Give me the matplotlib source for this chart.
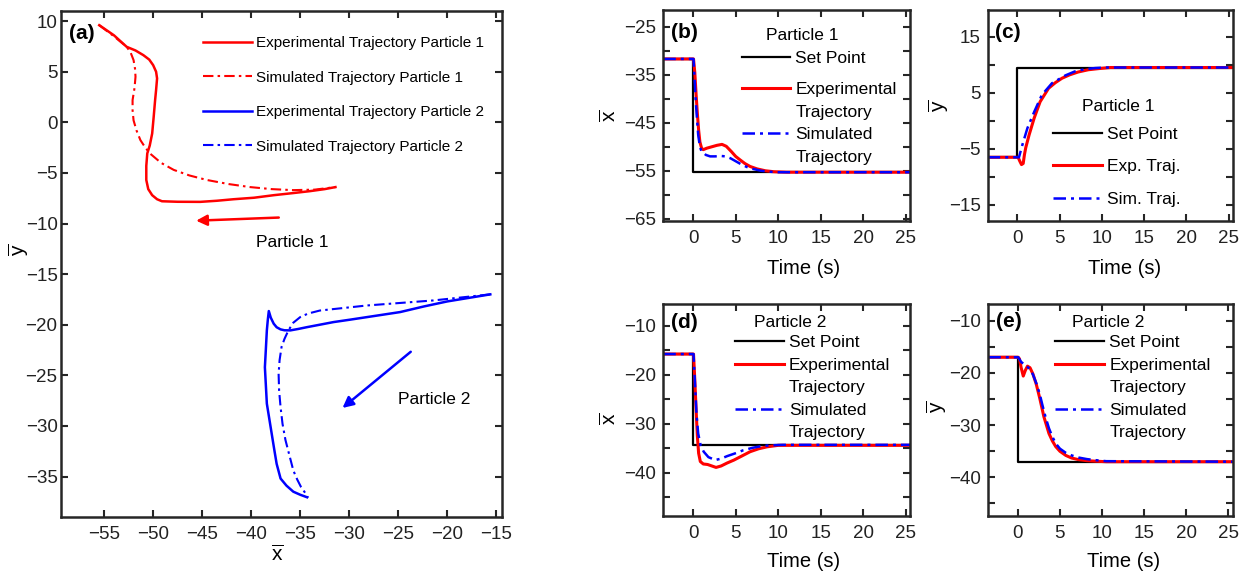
import matplotlib
matplotlib.use("Agg")
import matplotlib.pyplot as plt
from matplotlib.ticker import FixedLocator
from matplotlib.lines import Line2D

plt.rcParams['font.family'] = ['Liberation Sans', 'DejaVu Sans']
plt.rcParams['mathtext.fontset'] = 'custom'
plt.rcParams['mathtext.rm'] = 'Liberation Sans'
plt.rcParams['mathtext.it'] = 'Liberation Sans:italic'
plt.rcParams['axes.unicode_minus'] = True

# ---------------- Panel (a) data: trajectories in the plane ----------------
p1_exp_x = [-55.5, -54.0, -52.7, -51.8, -51.0, -50.4, -50.0, -49.7, -49.6, -49.7, -49.8, -49.95, -50.1, -50.35,
            -50.6, -50.7, -50.7, -50.5, -50.1, -49.6, -49.1, -47.5, -45.2, -43.5, -41.8, -39.7, -37.7, -35.8,
            -34.0, -32.5, -31.4]
p1_exp_y = [9.6, 8.6, 7.46, 7.1, 6.64, 6.2, 5.65, 5.0, 4.34, 3.2, 2.2, 0.5, -1.1, -2.3,
            -3.07, -4.3, -5.7, -6.6, -7.2, -7.6, -7.8, -7.85, -7.86, -7.75, -7.6, -7.45, -7.2, -7.0,
            -6.8, -6.6, -6.4]
p1_sim_x = [-55.5, -54.0, -52.7, -52.3, -52.0, -51.85, -51.8, -51.9, -52.1, -52.1, -52.0, -51.7, -51.3, -50.8,
            -50.3, -49.2, -47.9, -46.3, -44.5, -42.3, -40.1, -37.9, -35.7, -33.5, -31.4]
p1_sim_y = [9.6, 8.5, 7.46, 6.9, 6.15, 5.3, 4.5, 3.4, 2.2, 1.2, 0.2, -0.8, -1.76, -2.5,
            -3.1, -4.0, -4.7, -5.25, -5.7, -6.1, -6.4, -6.6, -6.7, -6.65, -6.4]
p2_exp_x = [-15.6, -17.8, -20.0, -22.4, -24.8, -26.5, -28.2, -29.9, -31.6, -33.0, -34.3, -35.2, -36.0, -36.6,
            -37.0, -37.4, -37.7, -38.0, -38.2, -38.3, -38.4, -38.5, -38.6, -38.5, -38.4, -38.15, -37.9, -37.65,
            -37.4, -37.0, -36.4, -35.7, -35.0, -34.3]
p2_exp_y = [-17.0, -17.35, -17.7, -18.2, -18.75, -19.0, -19.25, -19.5, -19.74, -20.0, -20.24, -20.42, -20.56, -20.55,
            -20.46, -20.25, -19.9, -19.3, -18.65, -19.5, -20.56, -22.4, -24.2, -26.0, -27.8, -29.3, -30.8, -32.3,
            -33.75, -35.2, -35.9, -36.5, -36.8, -37.05]
p2_sim_x = [-15.6, -18.5, -21.4, -24.8, -28.2, -30.6, -33.0, -34.2, -35.0, -35.7, -36.2, -36.6, -36.9, -37.1,
            -37.2, -37.15, -37.0, -36.8, -36.5, -36.1, -35.7, -35.3, -34.9, -34.5, -34.2]
p2_sim_y = [-17.0, -17.3, -17.6, -17.85, -18.1, -18.35, -18.6, -18.9, -19.25, -19.8, -20.56, -21.4, -22.2, -23.5,
            -24.85, -26.5, -28.15, -29.8, -31.4, -32.9, -34.4, -35.3, -36.06, -36.6, -37.1]
arrow1 = [(-36.9, -9.4), (-45.9, -9.73)]
arrow2 = [(-23.5, -22.5), (-30.9, -28.4)]
legend_a = ['Experimental Trajectory Particle 1', 'Simulated Trajectory Particle 1',
            'Experimental Trajectory Particle 2', 'Simulated Trajectory Particle 2']

# ---------------- Panels (b)-(e) data: time responses ----------------
sp_t = [-3.5, 0, 0, 25.5]
b_sp = [-31.7, -31.7, -55.3, -55.3]
b_exp_t = [-3.5, 0.05, 0.2, 0.35, 0.5, 0.65, 0.8, 1.0, 1.2, 1.6, 2.2, 2.8, 3.4, 3.9, 4.5, 5.0, 5.5, 6.1, 6.7, 7.5, 8.5, 9.5, 11, 25.5]
b_exp_v = [-31.7, -31.7, -34.5, -39.0, -43.0, -46.5, -49.0, -50.3, -50.6, -50.3, -50.0, -49.7, -49.5, -49.9, -51.0, -52.0, -52.7, -53.5, -54.1, -54.6, -55.0, -55.2, -55.3, -55.3]
b_sim_t = [-3.5, 0.05, 0.15, 0.3, 0.45, 0.6, 0.8, 1.0, 1.2, 1.5, 2.0, 2.6, 3.2, 3.8, 4.4, 5.0, 5.6, 6.3, 7.0, 8.0, 9.0, 10.0, 12, 25.5]
b_sim_v = [-31.7, -31.7, -35.0, -40.0, -44.0, -47.5, -50.0, -51.0, -51.2, -51.7, -52.0, -52.0, -51.9, -52.0, -52.4, -53.0, -53.6, -54.2, -54.6, -55.0, -55.2, -55.3, -55.3, -55.3]

c_sp = [-6.5, -6.5, 9.5, 9.5]
c_exp_t = [-3.5, 0.1, 0.3, 0.5, 0.7, 0.85, 1.0, 1.4, 2.0, 2.7, 3.7, 4.5, 5.3, 6.2, 7.2, 8.4, 9.6, 11, 25.5]
c_exp_v = [-6.5, -6.5, -7.2, -7.8, -7.6, -6.0, -4.8, -2.5, 0.5, 3.4, 5.8, 6.8, 7.6, 8.2, 8.7, 9.1, 9.3, 9.5, 9.5]
c_sim_t = [-3.5, 0.0, 0.2, 0.6, 1.2, 2.0, 2.9, 4.1, 5.7, 6.8, 8.0, 9.2, 10.4, 25.5]
c_sim_v = [-6.5, -6.5, -6.5, -4.3, -1.3, 1.6, 4.6, 6.7, 8.1, 8.8, 9.2, 9.4, 9.5, 9.5]

d_sp = [-15.8, -15.8, -34.3, -34.3]
d_exp_t = [-3.5, 0.05, 0.2, 0.35, 0.5, 0.65, 0.85, 1.2, 1.7, 2.2, 2.7, 3.3, 4.0, 4.8, 5.7, 6.7, 7.7, 8.7, 10, 25.5]
d_exp_v = [-15.8, -15.8, -21.0, -27.0, -32.5, -36.0, -37.7, -38.2, -38.3, -38.6, -38.9, -38.6, -38.0, -37.4, -36.6, -35.7, -35.1, -34.7, -34.4, -34.4]
d_sim_t = [-3.5, 0.05, 0.2, 0.4, 0.6, 0.9, 1.25, 1.8, 2.6, 3.3, 4.0, 5.0, 5.9, 7.0, 7.9, 9.0, 10.5, 25.5]
d_sim_v = [-15.8, -15.8, -21.0, -28.0, -32.0, -34.5, -35.7, -36.8, -37.4, -37.1, -36.6, -36.0, -35.4, -34.9, -34.6, -34.4, -34.3, -34.3]

e_sp = [-17.0, -17.0, -37.0, -37.0]
e_exp_t = [-3.5, 0.05, 0.2, 0.4, 0.65, 0.9, 1.15, 1.45, 1.8, 2.2, 2.6, 3.1, 3.7, 4.1, 4.5, 5.0, 5.7, 6.4, 7.2, 8.2, 9.2, 10.5, 25.5]
e_exp_v = [-17.0, -17.0, -17.3, -19.0, -20.6, -19.5, -18.7, -19.0, -20.2, -22.2, -24.8, -28.4, -31.6, -33.0, -34.1, -35.0, -35.8, -36.3, -36.6, -36.8, -36.9, -37.0, -37.0]
e_sim_t = [-3.5, 0.05, 0.4, 0.9, 1.4, 1.8, 2.2, 2.6, 2.9, 3.3, 3.7, 4.1, 4.5, 5.0, 5.7, 6.4, 7.2, 8.2, 9.2, 10.5, 25.5]
e_sim_v = [-17.0, -17.0, -17.9, -18.5, -19.2, -20.3, -22.0, -24.0, -26.0, -28.5, -30.6, -32.2, -33.5, -34.5, -35.3, -35.8, -36.2, -36.5, -36.7, -36.9, -37.0]

time_ticks = [0, 5, 10, 15, 20, 25]
long_labels = ['Set Point', 'Experimental', 'Trajectory', 'Simulated', 'Trajectory']
short_labels = ['Set Point', 'Exp. Traj.', 'Sim. Traj.']

RED = '#ff0000'
BLUE = '#0000ff'
SPINE = '#262626'
DASHDOT = (0, (5, 2, 1.2, 2))
XBAR = r'$\overline{\mathrm{x}}$'
YBAR = r'$\overline{\mathrm{y}}$'
SP_STYLE = dict(color='black', lw=1.6)
EXP_STYLE = dict(color=RED, lw=2.2)
SIM_STYLE = dict(color=BLUE, lw=1.8, ls=DASHDOT)

fig = plt.figure(figsize=(12.48, 5.71), dpi=100)


def style_axes(ax, ypad):
    for s in ax.spines.values():
        s.set_linewidth(1.8)
        s.set_color(SPINE)
    ax.tick_params(which='both', direction='in', top=True, right=True,
                   length=5, width=1.5, color=SPINE, labelsize=13.5, labelcolor='#222222')
    ax.tick_params(axis='x', which='both', pad=6.5)
    ax.tick_params(axis='y', which='both', pad=ypad)


# ---------------- Panel (a) ----------------
axa = fig.add_axes([0.0489, 0.0946, 0.3534, 0.8861])
axa.plot(p1_exp_x, p1_exp_y, color=RED, lw=1.8, label=legend_a[0])
axa.plot(p1_sim_x, p1_sim_y, color=RED, lw=1.5, ls=DASHDOT, label=legend_a[1])
axa.plot(p2_exp_x, p2_exp_y, color=BLUE, lw=1.8, label=legend_a[2])
axa.plot(p2_sim_x, p2_sim_y, color=BLUE, lw=1.5, ls=DASHDOT, label=legend_a[3])
axa.annotate('', xy=arrow1[1], xytext=arrow1[0],
             arrowprops=dict(arrowstyle='-|>', color=RED, lw=1.8, mutation_scale=16))
axa.annotate('', xy=arrow2[1], xytext=arrow2[0],
             arrowprops=dict(arrowstyle='-|>', color=BLUE, lw=1.8, mutation_scale=16))
axa.text(-39.5, -11.9, 'Particle 1', fontsize=12.5, va='center', ha='left')
axa.text(-25.0, -27.4, 'Particle 2', fontsize=12.5, va='center', ha='left')
axa.set_xlim(-59.4, -14.4)
axa.set_ylim(-39, 11)
axa.set_xticks([-55, -50, -45, -40, -35, -30, -25, -20, -15])
axa.set_yticks([10, 5, 0, -5, -10, -15, -20, -25, -30, -35])
style_axes(axa, 2.5)
axa.set_xlabel(XBAR, fontsize=15)
axa.set_ylabel(YBAR, fontsize=15)
axa.xaxis.set_label_coords(0.49, -0.055)
axa.yaxis.set_label_coords(-0.068, 0.528)
axa.text(0.018, 0.975, '(a)', transform=axa.transAxes, fontsize=15, fontweight='bold', va='top', ha='left')
axa.legend(loc='upper left', bbox_to_anchor=(0.29, 0.978), frameon=False, fontsize=11,
           handlelength=3.2, labelspacing=1.35, handletextpad=0.3, borderpad=0.4)


def add_legend(ax, handles, labels, bbox, lspace):
    return ax.legend(handles, labels, loc='upper left', bbox_to_anchor=bbox, frameon=False,
                     fontsize=12.5, handlelength=2.8, handletextpad=0.3,
                     labelspacing=lspace, borderpad=0.2)


def time_panel(rect, sp, et, ev, st, sv, ylim, major, minor, label, label_y, title, title_xy,
               ylab, ycoords, xcoords):
    ax = fig.add_axes(rect)
    ax.plot(sp_t, sp, **SP_STYLE)
    ax.plot(et, ev, **EXP_STYLE)
    ax.plot(st, sv, **SIM_STYLE)
    ax.set_xlim(-3.5, 25.5)
    ax.set_ylim(*ylim)
    ax.set_xticks(time_ticks)
    ax.yaxis.set_major_locator(FixedLocator(major))
    ax.yaxis.set_minor_locator(FixedLocator(minor))
    style_axes(ax, 5)
    ax.set_xlabel('Time (s)', fontsize=14.5)
    ax.set_ylabel(ylab, fontsize=15)
    ax.xaxis.set_label_coords(*xcoords)
    ax.yaxis.set_label_coords(*ycoords)
    ax.text(0.03, label_y, label, transform=ax.transAxes, fontsize=15, fontweight='bold', va='top', ha='left')
    ax.text(title_xy[0], title_xy[1], title, transform=ax.transAxes, fontsize=12.5, ha='center', va='center')
    return ax


# (b)
axb = time_panel([0.5315, 0.6135, 0.1977, 0.369], b_sp, b_exp_t, b_exp_v, b_sim_t, b_sim_v,
                 (-65.4, -21.5), [-65, -55, -45, -35, -25], [-60, -50, -40, -30],
                 '(b)', 0.938, 'Particle 1', (0.562, 0.881), XBAR, (-0.176, 0.497), (0.57, -0.18))
leg_b1 = add_legend(axb, [Line2D([], [], **SP_STYLE)], ['Set Point'], (0.268, 0.862), 0.45)
axb.add_artist(leg_b1)
add_legend(axb, [Line2D([], [], **EXP_STYLE), Line2D([], [], color='none'),
                 Line2D([], [], **SIM_STYLE), Line2D([], [], color='none')],
           long_labels[1:], (0.268, 0.715), 0.42)

# (c)
axc = time_panel([0.7914, 0.6135, 0.1966, 0.369], c_sp, c_exp_t, c_exp_v, c_sim_t, c_sim_v,
                 (-17.8, 19.75), [-15, -5, 5, 15], [-10, 0, 10],
                 '(c)', 0.938, 'Particle 1', (0.531, 0.544), YBAR, (-0.15, 0.544), (0.556, -0.18))
add_legend(axc, [Line2D([], [], **SP_STYLE), Line2D([], [], **EXP_STYLE), Line2D([], [], **SIM_STYLE)],
           short_labels, (0.218, 0.504), 1.0)

# (d)
axd = time_panel([0.5315, 0.0963, 0.1977, 0.3713], d_sp, d_exp_t, d_exp_v, d_sim_t, d_sim_v,
                 (-48.8, -5.6), [-40, -30, -20, -10], [-45, -35, -25, -15],
                 '(d)', 0.958, 'Particle 2', (0.514, 0.911), XBAR, (-0.176, 0.458), (0.57, -0.17))
add_legend(axd, [Line2D([], [], **SP_STYLE), Line2D([], [], **EXP_STYLE), Line2D([], [], color='none'),
                 Line2D([], [], **SIM_STYLE), Line2D([], [], color='none')],
           long_labels, (0.242, 0.910), 0.42)

# (e)
axe = time_panel([0.7919, 0.0963, 0.1958, 0.3713], e_sp, e_exp_t, e_exp_v, e_sim_t, e_sim_v,
                 (-47.4, -6.8), [-40, -30, -20, -10], [-45, -35, -25, -15],
                 '(e)', 0.962, 'Particle 2', (0.490, 0.911), YBAR, (-0.16, 0.514), (0.555, -0.17))
add_legend(axe, [Line2D([], [], **SP_STYLE), Line2D([], [], **EXP_STYLE), Line2D([], [], color='none'),
                 Line2D([], [], **SIM_STYLE), Line2D([], [], color='none')],
           long_labels, (0.225, 0.910), 0.42)

fig.savefig('out.png', dpi=100)
